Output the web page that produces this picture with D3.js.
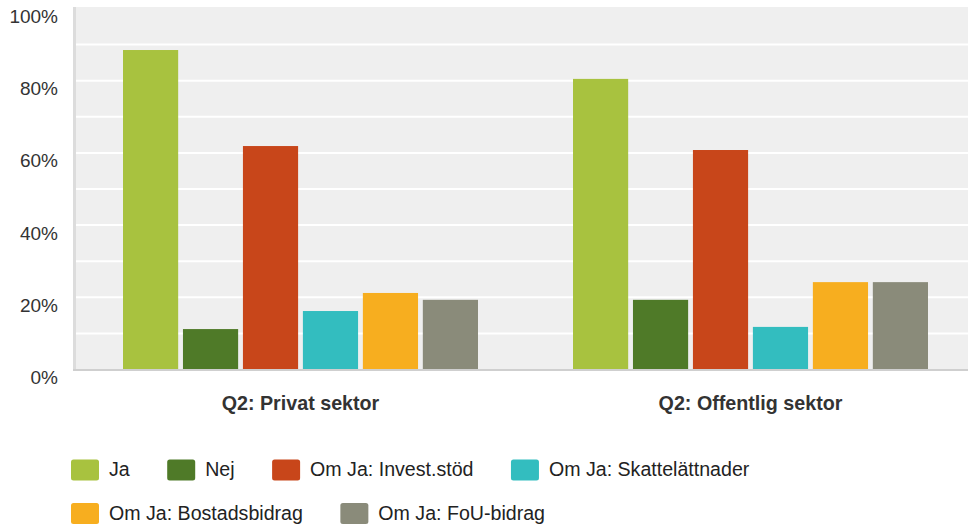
<!DOCTYPE html>
<html>
<head>
<meta charset="utf-8">
<script src="https://cdn.jsdelivr.net/npm/d3@7"></script>
<style>
  body { margin: 0; background: #fff; }
  svg { display: block; font-family: "Liberation Sans", Arial, sans-serif; }
</style>
</head>
<body>
<svg id="chart" width="968" height="527"></svg>
<script>
// data
var groups = ["Q2: Privat sektor", "Q2: Offentlig sektor"];
var seriesNames = ["Ja", "Nej", "Om Ja: Invest.stöd", "Om Ja: Skattelättnader", "Om Ja: Bostadsbidrag", "Om Ja: FoU-bidrag"];
var privatValues = [88.5, 11.2, 61.9, 16.2, 21.2, 19.3];
var offentligValues = [80.5, 19.3, 60.8, 11.8, 24.2, 24.2];
var seriesColors = ["#a8c23f", "#4f7a28", "#c8461a", "#33bdbf", "#f7ae1f", "#8a8b7a"];
var yTicks = [0, 20, 40, 60, 80, 100];

var values = [privatValues, offentligValues];

var svg = d3.select("#chart");
var W = 968;
var plotLeft = 76, plotTop = 8.5, plotBottom = 369.5;

var y = d3.scaleLinear().domain([0, 100]).range([plotBottom, plotTop]);
var x0 = d3.scaleBand().domain(groups).range([75.5, 975.5]).padding(0);
var x1 = d3.scaleBand().domain(seriesNames).range([47.5, 402.5]).paddingInner(0.08).paddingOuter(0);

// background
svg.append("rect")
  .attr("x", plotLeft).attr("y", 7)
  .attr("width", W - plotLeft).attr("height", plotBottom - 7)
  .attr("fill", "#efefef");

// grid every 10%
svg.append("g").selectAll("line")
  .data(d3.range(10, 100, 10))
  .join("line")
  .attr("x1", plotLeft).attr("x2", W)
  .attr("y1", function(d) { return y(d); })
  .attr("y2", function(d) { return y(d); })
  .attr("stroke", "#fff")
  .attr("stroke-width", 2);

// bars
var g = svg.append("g").selectAll("g")
  .data(groups)
  .join("g")
  .attr("transform", function(d) { return "translate(" + x0(d) + ",0)"; });

g.selectAll("rect")
  .data(function(d, i) {
    return seriesNames.map(function(s, j) { return { key: s, value: values[i][j], color: seriesColors[j] }; });
  })
  .join("rect")
  .attr("x", function(d) { return x1(d.key); })
  .attr("width", x1.bandwidth())
  .attr("y", function(d) { return y(d.value); })
  .attr("height", function(d) { return y(0) - y(d.value); })
  .attr("fill", function(d) { return d.color; });

// axis lines
svg.append("line")
  .attr("x1", 74.5).attr("x2", 74.5)
  .attr("y1", 7).attr("y2", plotBottom + 1)
  .attr("stroke", "#dcdcdc").attr("stroke-width", 3);
svg.append("line")
  .attr("x1", 73).attr("x2", W)
  .attr("y1", plotBottom + 0.5).attr("y2", plotBottom + 0.5)
  .attr("stroke", "#cfcfcf").attr("stroke-width", 2);

// y labels
svg.append("g").selectAll("text")
  .data(yTicks)
  .join("text")
  .attr("x", 58)
  .attr("y", function(d) { return y(d) + 14.5; })
  .attr("text-anchor", "end")
  .attr("fill", "#333")
  .style("font-size", "19px")
  .text(function(d) { return d + "%"; });

// x labels
svg.append("g").selectAll("text")
  .data(groups)
  .join("text")
  .attr("x", function(d) { return x0(d) + x0.bandwidth() / 2; })
  .attr("y", 410)
  .attr("text-anchor", "middle")
  .attr("fill", "#333")
  .style("font-size", "19.7px")
  .style("font-weight", "bold")
  .text(function(d) { return d; });

// legend (flow layout)
var legend = svg.append("g");
var lx = 71, ly = 459.5, rowH = 43.5, maxX = 950;
seriesNames.forEach(function(s, i) {
  var item = legend.append("g");
  item.append("rect")
    .attr("width", 28).attr("height", 21)
    .attr("rx", 2.5)
    .attr("fill", seriesColors[i]);
  var t = item.append("text")
    .attr("x", 38).attr("y", 16.5)
    .attr("fill", "#222")
    .style("font-size", "19.6px")
    .text(s);
  var w = 38 + t.node().getComputedTextLength() + 37.5;
  if (lx + w - 37.5 > maxX) { lx = 71; ly += rowH; }
  item.attr("transform", "translate(" + lx + "," + ly + ")");
  lx += w;
});
</script>
</body>
</html>
